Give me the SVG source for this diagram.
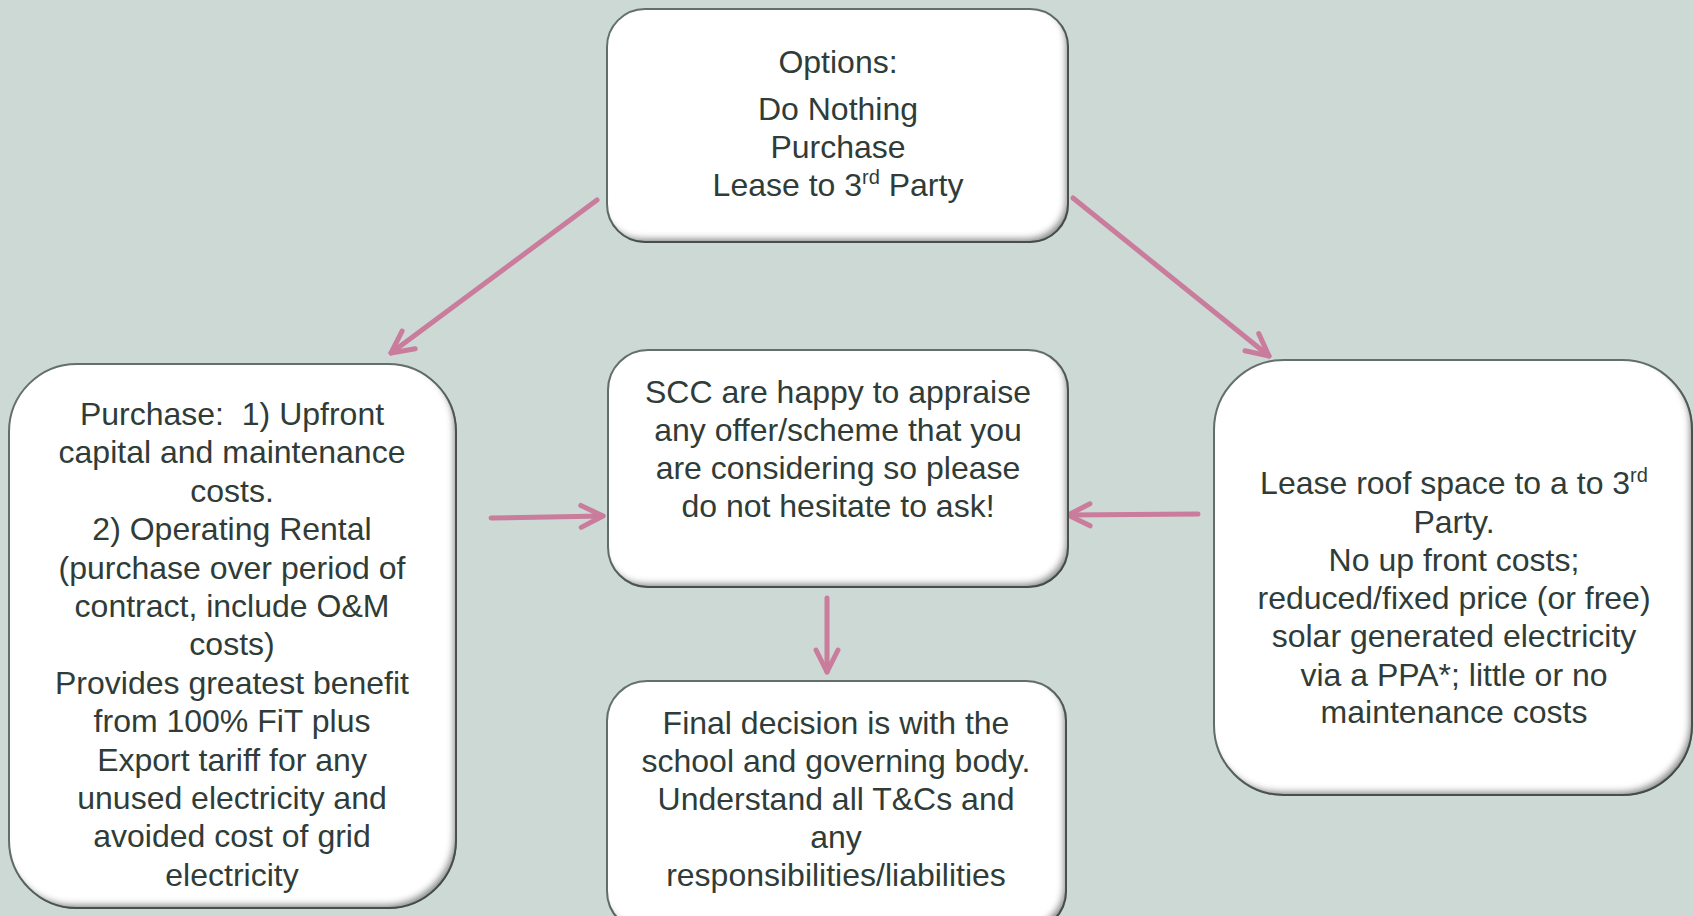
<svg xmlns="http://www.w3.org/2000/svg" width="1694" height="916" viewBox="0 0 1694 916">
<style>
.box{fill:#ffffff;stroke:#66716d;stroke-width:2;filter:url(#bevel)}
.t{font-family:"Liberation Sans",Arial,sans-serif;font-size:32px;fill:#2f3c38;text-anchor:middle}
.sup{font-size:20px}
.arr{fill:none;stroke:#c97c9b;stroke-width:5;stroke-linecap:round;marker-end:url(#ah)}
</style>
<defs>
<filter id="bevel" x="-5%" y="-5%" width="110%" height="110%">
<feGaussianBlur in="SourceAlpha" stdDeviation="3" result="blur"/>
<feOffset in="blur" dx="-4" dy="-5" result="off"/>
<feComposite in="SourceAlpha" in2="off" operator="out" result="edge"/>
<feFlood flood-color="#2e3634" flood-opacity="0.75"/>
<feComposite in2="edge" operator="in" result="shade"/>
<feMerge><feMergeNode in="SourceGraphic"/><feMergeNode in="shade"/></feMerge>
</filter>
<marker id="ah" markerUnits="userSpaceOnUse" markerWidth="40" markerHeight="40" viewBox="-30 -20 40 40" refX="0" refY="0" orient="auto">
<path d="M-22,-11 L0,0 L-22,11" fill="none" stroke="#c97c9b" stroke-width="5" stroke-linecap="round" stroke-linejoin="round"/>
</marker>
</defs>
<rect width="1694" height="916" fill="#cdd9d5"/>

<g id="connectors">
<line class="arr" x1="597" y1="200" x2="391" y2="353"/>
<line class="arr" x1="1073" y1="198" x2="1269" y2="356"/>
<line class="arr" x1="491" y1="518" x2="603" y2="516"/>
<line class="arr" x1="1198" y1="514" x2="1068" y2="515"/>
<line class="arr" x1="827" y1="598" x2="827" y2="672"/>
</g>

<g id="options">
<rect class="box" x="607" y="9" width="461" height="233" rx="38"/>
<text class="t"><tspan x="838" y="73">Options:</tspan><tspan x="838" y="120">Do Nothing</tspan><tspan x="838" y="158">Purchase</tspan><tspan x="838" y="196">Lease to 3<tspan class="sup" dy="-12">rd</tspan><tspan dy="12"> Party</tspan></tspan></text>
</g>

<g id="purchase">
<rect class="box" x="9" y="364" width="447" height="544" rx="68"/>
<text class="t"><tspan x="232" y="425">Purchase:&#160; 1) Upfront</tspan><tspan x="232" y="463.4">capital and maintenance</tspan><tspan x="232" y="501.8">costs.</tspan><tspan x="232" y="540.2">2) Operating Rental</tspan><tspan x="232" y="578.6">(purchase over period of</tspan><tspan x="232" y="617">contract, include O&amp;M</tspan><tspan x="232" y="655.4">costs)</tspan><tspan x="232" y="693.8">Provides greatest benefit</tspan><tspan x="232" y="732.2">from 100% FiT plus</tspan><tspan x="232" y="770.6">Export tariff for any</tspan><tspan x="232" y="809">unused electricity and</tspan><tspan x="232" y="847.4">avoided cost of grid</tspan><tspan x="232" y="885.8">electricity</tspan></text>
</g>

<g id="appraise">
<rect class="box" x="608" y="350" width="460" height="237" rx="40"/>
<text class="t"><tspan x="838" y="403">SCC are happy to appraise</tspan><tspan x="838" y="441">any offer/scheme that you</tspan><tspan x="838" y="479">are considering so please</tspan><tspan x="838" y="517">do not hesitate to ask!</tspan></text>
</g>

<g id="decision">
<rect class="box" x="607" y="681" width="459" height="250" rx="40"/>
<text class="t"><tspan x="836" y="734">Final decision is with the</tspan><tspan x="836" y="772">school and governing body.</tspan><tspan x="836" y="810">Understand all T&amp;Cs and</tspan><tspan x="836" y="848">any</tspan><tspan x="836" y="886">responsibilities/liabilities</tspan></text>
</g>

<g id="lease">
<rect class="box" x="1214" y="360" width="478" height="435" rx="70"/>
<text class="t"><tspan x="1454" y="494">Lease roof space to a to 3<tspan class="sup" dy="-12">rd</tspan></tspan><tspan x="1454" y="533">Party.</tspan><tspan x="1454" y="571">No up front costs;</tspan><tspan x="1454" y="609">reduced/fixed price (or free)</tspan><tspan x="1454" y="647">solar generated electricity</tspan><tspan x="1454" y="686">via a PPA*; little or no</tspan><tspan x="1454" y="723">maintenance costs</tspan></text>
</g>
</svg>
